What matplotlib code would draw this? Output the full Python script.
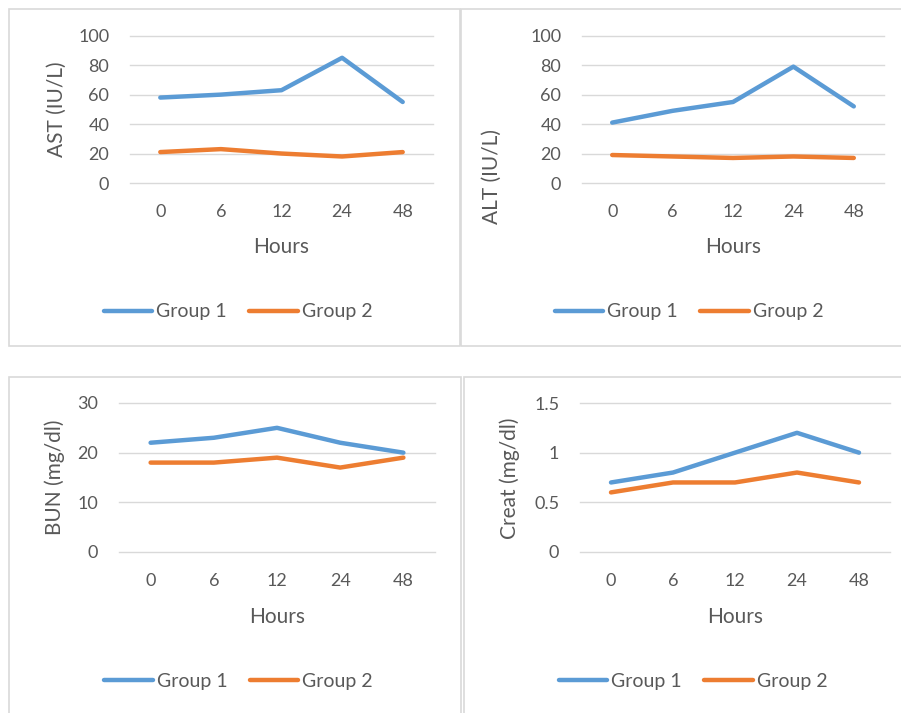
import matplotlib
matplotlib.use("Agg")
import matplotlib.pyplot as plt
from matplotlib.patches import Rectangle
from matplotlib.lines import Line2D

plt.rcParams['font.family'] = ['Lato', 'DejaVu Sans']

hours = ["0", "6", "12", "24", "48"]
ast_g1 = [58, 60, 63, 85, 55]
ast_g2 = [21, 23, 20, 18, 21]
alt_g1 = [41, 49, 55, 79, 52]
alt_g2 = [19, 18, 17, 18, 17]
bun_g1 = [22, 23, 25, 22, 20]
bun_g2 = [18, 18, 19, 17, 19]
creat_g1 = [0.7, 0.8, 1.0, 1.2, 1.0]
creat_g2 = [0.6, 0.7, 0.7, 0.8, 0.7]
series_names = ["Group 1", "Group 2"]

BLUE = "#5B9BD5"
ORANGE = "#ED7D31"
GRID = "#D9D9D9"
TXT = "#595959"
LW = 3.2

W, H = 901, 713
fig = plt.figure(figsize=(W / 100, H / 100), dpi=100)


def px_axes(x0, y0, x1, y1):
    return fig.add_axes([x0 / W, 1 - y1 / H, (x1 - x0) / W, (y1 - y0) / H])


def border(x0, y0, x1, y1):
    fig.patches.append(Rectangle((x0 / W, 1 - y1 / H), (x1 - x0) / W, (y1 - y0) / H,
                                 transform=fig.transFigure, fill=False,
                                 edgecolor=GRID, linewidth=1.2, clip_on=False))


panels = [
    dict(box=(9, 9, 460, 346), ax=(130, 35.7, 433, 183), g1=ast_g1, g2=ast_g2,
         yt=[0, 20, 40, 60, 80, 100], ylab=["0", "20", "40", "60", "80", "100"],
         ylim=100, title="AST (IU/L)", ylc=(57, 109), hours_y=247, leg=(238, 312)),
    dict(box=(461, 9, 905, 346), ax=(582, 35.7, 884, 183), g1=alt_g1, g2=alt_g2,
         yt=[0, 20, 40, 60, 80, 100], ylab=["0", "20", "40", "60", "80", "100"],
         ylim=100, title="ALT (IU/L)", ylc=(492, 177), hours_y=247, leg=(689, 312)),
    dict(box=(9, 377, 461, 716), ax=(119, 403, 435, 552), g1=bun_g1, g2=bun_g2,
         yt=[0, 10, 20, 30], ylab=["0", "10", "20", "30"],
         ylim=30, title="BUN (mg/dl)", ylc=(55, 477), hours_y=617, leg=(238.5, 681)),
    dict(box=(464, 377, 905, 716), ax=(580, 403, 890, 552), g1=creat_g1, g2=creat_g2,
         yt=[0, 0.5, 1, 1.5], ylab=["0", "0.5", "1", "1.5"],
         ylim=1.5, title="Creat (mg/dl)", ylc=(510, 478), hours_y=617, leg=(693, 681)),
]

for p in panels:
    border(*p["box"])
    x0, y0, x1, y1 = p["ax"]
    ax = px_axes(x0, y0, x1, y1)
    ax.set_facecolor("none")
    for s in ax.spines.values():
        s.set_visible(False)
    ax.set_xlim(-0.5, 4.5)
    ax.set_ylim(0, p["ylim"])
    for t in p["yt"]:
        ax.axhline(t, color=GRID, lw=1.0, clip_on=False, zorder=1)
    xs = list(range(len(hours)))
    ax.plot(xs, p["g1"], color=BLUE, lw=LW, solid_capstyle="round",
            solid_joinstyle="round", clip_on=False, zorder=3)
    ax.plot(xs, p["g2"], color=ORANGE, lw=LW, solid_capstyle="round",
            solid_joinstyle="round", clip_on=False, zorder=3)
    ax.set_xticks(xs)
    ax.set_xticklabels(hours)
    ax.set_yticks(p["yt"])
    ax.set_yticklabels(p["ylab"])
    ax.tick_params(axis="both", length=0, labelsize=13, colors=TXT)
    ax.tick_params(axis="y", pad=15)
    ax.tick_params(axis="x", pad=15)
    w = x1 - x0
    h = y1 - y0
    ax.set_xlabel("Hours", fontsize=15, color=TXT, va="center")
    ax.xaxis.set_label_coords(0.5, (y1 - p["hours_y"]) / h)
    ax.set_ylabel(p["title"], fontsize=15, color=TXT, va="center")
    ax.yaxis.set_label_coords((p["ylc"][0] - x0) / w, (y1 - p["ylc"][1]) / h)
    handles = [Line2D([], [], color=BLUE, lw=LW, solid_capstyle="round"),
               Line2D([], [], color=ORANGE, lw=LW, solid_capstyle="round")]
    cx, cy = p["leg"]
    leg = fig.legend(handles, series_names, loc="center", ncol=2,
                     bbox_to_anchor=(cx / W, 1 - cy / H),
                     frameon=False, fontsize=14, handlelength=2.5,
                     handletextpad=0.2, columnspacing=1.15, borderpad=0,
                     borderaxespad=0)
    for t in leg.get_texts():
        t.set_color(TXT)

fig.savefig("out.png", dpi=100, facecolor="white")
